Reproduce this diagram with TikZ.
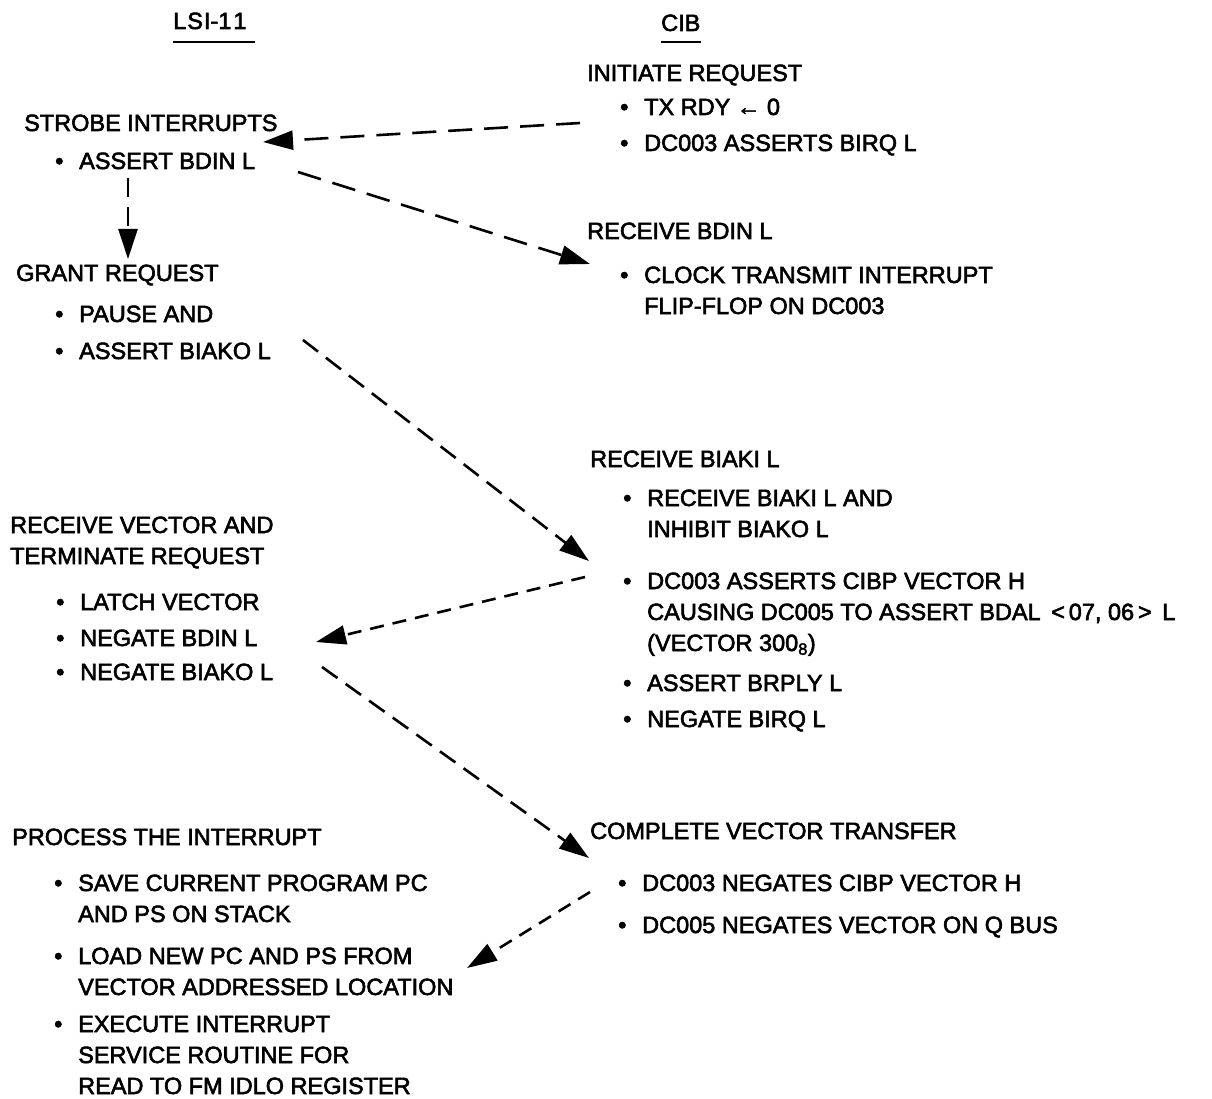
\documentclass[tikz,border=0pt]{standalone}
\usepackage{fontspec}
\setmainfont{Liberation Sans}[RawFeature={embolden=2.5}]
\usetikzlibrary{arrows.meta}
\tikzset{
  txt/.style={anchor=base west, inner sep=0pt, align=left, font=\fontsize{23.5}{31}\selectfont},
  conn/.style={line width=2.6pt, -{Triangle[length=30pt,width=19pt]}},
  longdash/.style={dash pattern=on 24pt off 12pt},
  middash/.style={dash pattern=on 19pt off 10pt},
  shortdash/.style={dash pattern=on 14pt off 9pt},
  uline/.style={line width=2.5pt},
}
\newcommand{\bl}{\makebox[24pt][l]{•}}
\newcommand{\ind}{\hspace*{24pt}}
\begin{document}
\begin{tikzpicture}[x=1pt,y=-1pt]
\useasboundingbox (0,0) rectangle (1212,1099);
% column headers
\node[txt] (lsi) at (173,29) {L\kern1ptS\kern1ptI-1\kern2pt1};
\draw[uline] (lsi.west |- 0,42) -- ([xshift=8pt]lsi.east |- 0,42);
\node[txt] (cib) at (661,31) {CIB};
\draw[uline] (cib.west |- 0,42) -- (cib.east |- 0,42);
% CIB side
\node[txt] (init) at (587,81) {INITIATE REQUEST};
\node[txt] (init1) at (620,115) {\bl TX RDY ← 0};
\node[txt] (init2) at (620,151) {\bl DC003 ASSERTS BIRQ L};
\node[txt] (rbdin) at (587,239) {RECEIVE BDIN L};
\node[txt] (rbdin1) at (620,314) {\bl CLOCK TRANSMIT INTERRUPT\\\ind FLIP-FLOP ON DC003};
\node[txt] (rbiaki) at (590,467) {RECEIVE BIAKI L};
\node[txt] (rbiaki1) at (623,537) {\bl RECEIVE BIAKI L AND\\\ind INHIBIT BIAKO L};
\node[txt] (rbiaki2) at (623,651) {\bl DC003 ASSERTS CIBP VECTOR H\\\ind CAUSING DC005 TO ASSERT BDAL \,<\,07, 06\,>\, L\\\ind (VECTOR 300\textsubscript{8})};
\node[txt] (rbiaki3) at (623,691) {\bl ASSERT BRPLY L};
\node[txt] (rbiaki4) at (623,727) {\bl NEGATE BIRQ L};
\node[txt] (cvt) at (590,839) {COMPLETE VECTOR TRANSFER};
\node[txt] (cvt1) at (618,891) {\bl DC003 NEGATES CIBP VECTOR H};
\node[txt] (cvt2) at (618,933) {\bl DC005 NEGATES VECTOR ON Q BUS};
% LSI-11 side
\node[txt] (strobe) at (24,131) {STROBE INTERRUPTS};
\node[txt] (strobe1) at (55,169) {\bl ASSERT BDIN L};
\node[txt] (grant) at (16,281) {GRANT REQUEST};
\node[txt] (grant1) at (55,322) {\bl PAUSE AND};
\node[txt] (grant2) at (55,359) {\bl ASSERT BIAKO L};
\node[txt] (rvec) at (10,564) {RECEIVE VECTOR AND\\TERMINATE REQUEST};
\node[txt] (rvec1) at (56,610) {\bl LATCH VECTOR};
\node[txt] (rvec2) at (56,646) {\bl NEGATE BDIN L};
\node[txt] (rvec3) at (56,680) {\bl NEGATE BIAKO L};
\node[txt] (proc) at (12,845) {PROCESS THE INTERRUPT};
\node[txt] (proc1) at (54,922) {\bl SAVE CURRENT PROGRAM PC\\\ind AND PS ON STACK};
\node[txt] (proc2) at (54,995) {\bl LOAD NEW PC AND PS FROM\\\ind VECTOR ADDRESSED LOCATION};
\node[txt] (proc3) at (54,1094) {\bl EXECUTE INTERRUPT\\\ind SERVICE ROUTINE FOR\\\ind READ TO FM IDLO REGISTER};
% connector end points
\coordinate (a1s) at (580,123);  \coordinate (a1e) at (263,142);
\coordinate (a2s) at (298,172);  \coordinate (a2e) at (590,264);
\coordinate (a3s) at (128,178);  \coordinate (a3e) at (128,259);
\coordinate (a4s) at (303,340);  \coordinate (a4e) at (589,561);
\coordinate (a5s) at (585,577);  \coordinate (a5e) at (316,642);
\coordinate (a6s) at (322,667);  \coordinate (a6e) at (589,858);
\coordinate (a7s) at (590,892);  \coordinate (a7e) at (467,968);
% connectors
\draw[conn,longdash] (a1s) -- (a1e);
\draw[conn,longdash] (a2s) -- (a2e);
\draw[conn,middash] (a3s) -- (a3e);
\draw[conn,middash] (a4s) -- (a4e);
\draw[conn,shortdash] (a5s) -- (a5e);
\draw[conn,middash] (a6s) -- (a6e);
\draw[conn,shortdash] (a7s) -- (a7e);
\end{tikzpicture}
\end{document}
